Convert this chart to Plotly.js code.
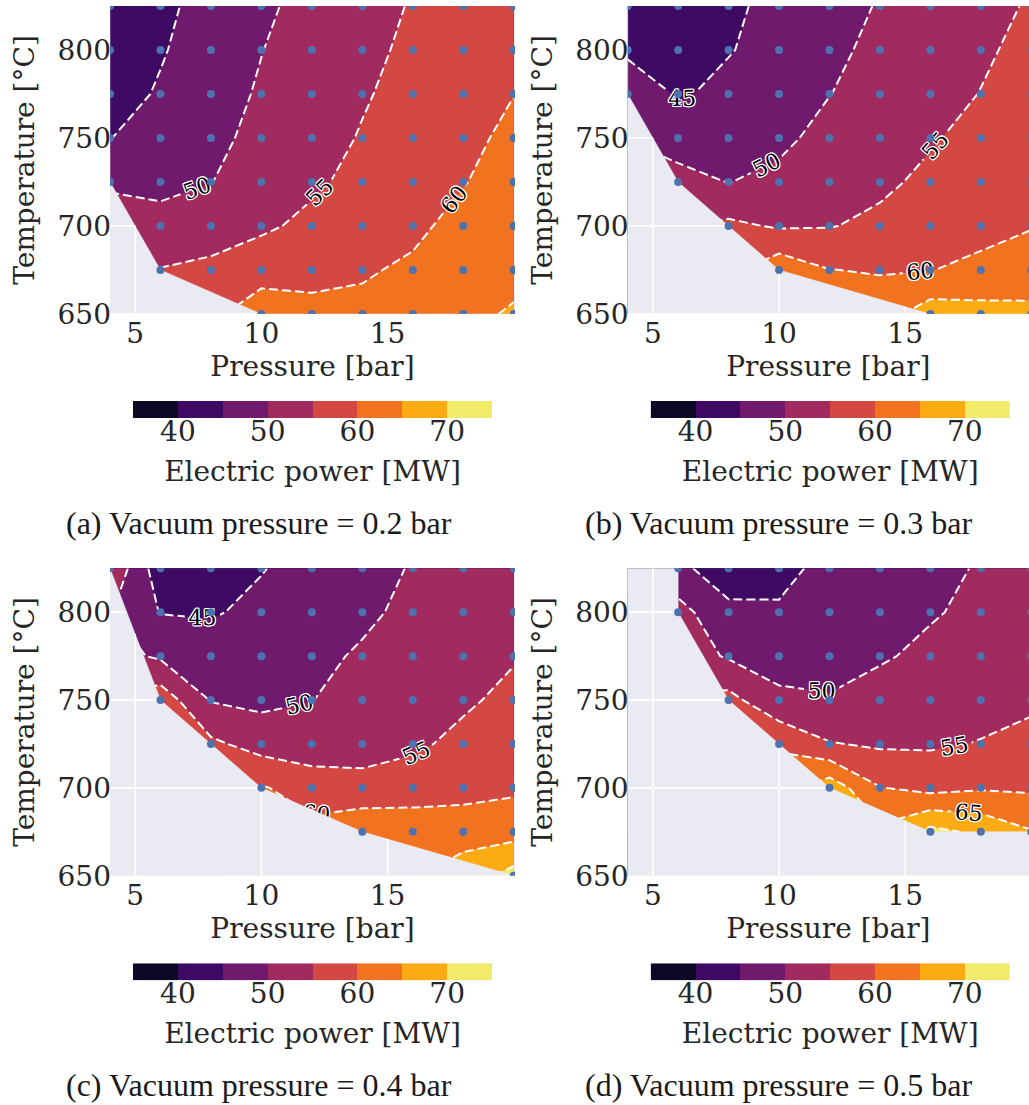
<!DOCTYPE html>
<html>
<head>
<meta charset="utf-8">
<script src="https://cdn.plot.ly/plotly-3.0.1.min.js"></script>
<style>
html,body{margin:0;padding:0;background:#ffffff;overflow:hidden}
#chart{width:1029px;height:1105px}
</style>
</head>
<body>
<div id="chart"></div>
<script>
// ---------------- data ----------------
const pressure = [4, 6, 8, 10, 12, 14, 16, 18, 20];           // bar
const temperature = [650, 675, 700, 725, 750, 775, 800, 825];  // degC

// Electric power [MW]; rows follow temperature, columns follow pressure; null = infeasible
const power02 = [
  [null, null, null, 63.5, 61.3, 60.9, 62.0, 64.3, 65.3],
  [null, 55.2, 56.0, 57.5, 58.6, 59.6, 60.6, 62.7, 64.2],
  [null, 51.4, 52.8, 54.3, 56.0, 58.3, 59.2, 61.2, 63.2],
  [49.5, 48.9, 49.9, 52.2, 54.3, 56.2, 58.0, 59.8, 61.9],
  [44.9, 47.0, 49.0, 51.1, 53.3, 55.3, 57.2, 59.0, 60.9],
  [43.0, 45.5, 48.1, 50.5, 52.5, 54.6, 56.4, 58.2, 59.95],
  [42.2, 44.6, 47.3, 49.9, 52.0, 54.0, 55.8, 57.3, 58.9],
  [41.4, 44.0, 46.6, 49.2, 51.4, 53.4, 55.3, 56.5, 57.8]
];
const power03 = [
  [null, null, null, null, null, null, 67.6, 66.8, 66.3],
  [null, null, null, 63.3, 60.1, 59.6, 59.9, 61.0, 62.0],
  [null, null, 56.0, 54.5, 54.8, 55.9, 57.8, 58.7, 59.8],
  [null, 51.5, 49.9, 51.2, 53.2, 54.2, 55.9, 57.6, 58.9],
  [null, 48.0, 48.2, 48.9, 51.6, 53.0, 54.6, 56.3, 58.0],
  [49.8, 44.3, 46.5, 47.9, 49.9, 52.0, 53.6, 55.1, 57.0],
  [43.7, 43.4, 44.7, 47.0, 49.1, 51.0, 52.7, 54.4, 56.1],
  [41.5, 42.8, 44.2, 46.2, 48.3, 50.3, 52.0, 53.7, 55.4]
];
const power04 = [
  [null, null, null, null, null, null, null, null, 72.0],
  [null, null, null, null, null, 64.8, 63.7, 63.5, 63.0],
  [null, null, null, 60.4, 57.9, 55.8, 57.0, 57.8, 59.2],
  [null, null, 56.0, 53.0, 52.0, 54.0, 54.3, 56.0, 57.5],
  [null, 58.0, 49.7, 48.8, 49.9, 52.0, 53.0, 54.4, 56.0],
  [null, 49.3, 47.2, 47.5, 49.0, 50.5, 52.0, 53.5, 54.7],
  [null, 44.8, 44.6, 46.0, 47.8, 49.2, 51.0, 52.7, 54.1],
  [54.4, 42.0, 42.3, 44.8, 46.6, 48.4, 50.3, 52.0, 53.6]
];
const power05 = [
  [null, null, null, null, null, null, null, null, null],
  [null, null, null, null, null, null, 71.5, 68.9, 65.3],
  [null, null, null, null, 68.0, 60.2, 58.4, 59.5, 59.3],
  [null, null, null, 59.3, 55.3, 54.3, 54.4, 55.2, 56.0],
  [null, null, 56.6, 51.0, 50.3, 51.8, 52.6, 53.5, 54.4],
  [null, null, 49.5, 48.0, 48.5, 49.5, 51.0, 52.0, 53.5],
  [null, 52.1, 45.5, 45.4, 47.0, 48.5, 49.6, 51.0, 52.7],
  [null, 45.5, 43.8, 44.0, 46.0, 47.6, 49.0, 50.3, 52.0]
];

const powerLevels = [35, 40, 45, 50, 55, 60, 65, 70, 75];
const colorbarTicks = [40, 50, 60, 70];
const pressureTicks = [5, 10, 15];
const temperatureTicks = [650, 700, 750, 800];
const captions = [
  '(a) Vacuum pressure = 0.2 bar',
  '(b) Vacuum pressure = 0.3 bar',
  '(c) Vacuum pressure = 0.4 bar',
  '(d) Vacuum pressure = 0.5 bar'
];
const panelData = [power02, power03, power04, power05];

// ---------------- style ----------------
const bandColors = ['#0c0826', '#3e0a63', '#701a6e', '#a12b5e', '#d34843', '#f1721f', '#fcab13', '#f2ea69'];
const W = 1029, H = 1105;
const BG = '#eaeaf2';
const TXT = '#262626';
const FONT = 'DejaVu Serif';
const geom = [
  {x0: 110,   x1: 515,  xr: [4, 20.05], y0: 6,     y1: 314,   cb: [133, 492, 401, 418],        cap: [259, 523]},
  {x0: 627.7, x1: 1029, xr: [4, 19.91], y0: 6,     y1: 314,   cb: [650.7, 1009.7, 401, 418],   cap: [778.5, 523]},
  {x0: 110,   x1: 515,  xr: [4, 20.05], y0: 568.3, y1: 875.7, cb: [133, 492, 963.3, 980.3],    cap: [259, 1085]},
  {x0: 627.7, x1: 1029, xr: [4, 19.91], y0: 568.3, y1: 875.7, cb: [650.7, 1009.7, 963.3, 980.3], cap: [778.5, 1085]}
];

function contourScale() {
  const n = powerLevels.length;
  const s = [];
  bandColors.forEach((c, k) => {
    const lo = k === 0 ? 0 : (k + 0.5) / n;
    const hi = k === bandColors.length - 1 ? 1 : (k + 1.5) / n;
    s.push([lo, c], [hi, c]);
  });
  return s;
}
function barScale() {
  const n = bandColors.length;
  const s = [];
  bandColors.forEach((c, k) => { s.push([k / n, c], [(k + 1) / n, c]); });
  return s;
}

// frontier of the feasible region: top of the first feasible column, then the lower convex hull
function frontier(Z) {
  const pts = [];
  let firstTop = null;
  for (let i = 0; i < pressure.length; i++) {
    let lo = null, hi = null;
    for (let j = 0; j < temperature.length; j++) {
      if (Z[j][i] !== null) { if (lo === null) lo = j; hi = j; }
    }
    if (lo === null) continue;
    if (firstTop === null) firstTop = [pressure[i], temperature[hi]];
    pts.push([pressure[i], temperature[lo]]);
  }
  const h = [];
  for (const p of pts) {
    while (h.length >= 2) {
      const a = h[h.length - 2], b = h[h.length - 1];
      const cr = (b[0] - a[0]) * (p[1] - a[1]) - (b[1] - a[1]) * (p[0] - a[0]);
      if (cr <= 0) h.pop(); else break;
    }
    h.push(p);
  }
  return [firstTop].concat(h);
}

const xmin = Math.min(...pressure), xmax = Math.max(...pressure);
const tmin = Math.min(...temperature), tmax = Math.max(...temperature);

// infeasible area, extended a little past the axes so no sliver stays uncovered
function maskPolygon(F) {
  const ex = 1, et = 2;
  const xs = [xmin - ex, xmin - ex], ys = [tmin - et, tmax + et];
  if (F[0][0] > xmin) { xs.push(F[0][0]); ys.push(tmax + et); }
  else { xs.push(xmin - ex); ys.push(F[0][1]); }
  F.forEach(p => { xs.push(p[0]); ys.push(p[1]); });
  const last = F[F.length - 1];
  xs.push(xmax + ex, xmax + ex, xmin - ex); ys.push(last[1], tmin - et, tmin - et);
  return {x: xs, y: ys};
}

// white grid lines, visible only where the infeasible background shows
function gridSegments(F) {
  const xs = [], ys = [];
  pressureTicks.forEach(c => {
    let top = null;
    if (c < F[0][0]) top = tmax;
    else {
      for (let k = 0; k < F.length - 1; k++) {
        const a = F[k], b = F[k + 1];
        if (b[0] > a[0] && c >= a[0] && c <= b[0]) { top = a[1] + (b[1] - a[1]) * (c - a[0]) / (b[0] - a[0]); break; }
      }
    }
    if (top !== null) { xs.push(c, c, null); ys.push(tmin, top, null); }
  });
  temperatureTicks.forEach(c => {
    let right = null;
    if (c > F[0][1]) right = null;
    else if (c < F[F.length - 1][1]) right = xmax;
    else {
      for (let k = 0; k < F.length - 1; k++) {
        const a = F[k], b = F[k + 1];
        if (c <= a[1] && c >= b[1]) {
          right = a[1] === b[1] ? a[0] : a[0] + (b[0] - a[0]) * (a[1] - c) / (a[1] - b[1]);
          break;
        }
      }
    }
    if (right !== null && right > xmin) { xs.push(xmin, right, null); ys.push(c, c, null); }
  });
  return {x: xs, y: ys};
}

const traces = [];
const layout = {
  width: W, height: H,
  margin: {l: 0, r: 0, t: 0, b: 0},
  paper_bgcolor: '#ffffff',
  plot_bgcolor: BG,
  showlegend: false,
  annotations: []
};
const axFont = {family: FONT, size: 28, color: TXT};

panelData.forEach((Z, i) => {
  const g = geom[i];
  const n = i + 1, m = i + 5;
  const xa = 'x' + n, ya = 'y' + n;

  traces.push({
    type: 'contour', x: pressure, y: temperature, z: Z,
    xaxis: xa, yaxis: ya,
    connectgaps: true, autocontour: false,
    contours: {
      start: powerLevels[0], end: powerLevels[powerLevels.length - 1], size: powerLevels[1] - powerLevels[0],
      coloring: 'fill', showlines: true, showlabels: true, labelformat: '.0f',
      labelfont: {family: FONT, size: 22, color: '#000000',
        shadow: '1px 1px 0 #fff, -1px -1px 0 #fff, 1px -1px 0 #fff, -1px 1px 0 #fff, 0 1px 0 #fff, 0 -1px 0 #fff, 1px 0 0 #fff, -1px 0 0 #fff'}
    },
    line: {color: '#ffffff', width: 2, dash: '9px,4px', smoothing: 0},
    colorscale: contourScale(), showscale: false, hoverinfo: 'skip'
  });

  const F = frontier(Z);
  const poly = maskPolygon(F);
  traces.push({type: 'scatter', mode: 'lines', x: poly.x, y: poly.y, xaxis: xa, yaxis: ya,
    fill: 'toself', fillcolor: BG, line: {width: 0.5, color: BG}, hoverinfo: 'skip'});

  const gs = gridSegments(F);
  traces.push({type: 'scatter', mode: 'lines', x: gs.x, y: gs.y, xaxis: xa, yaxis: ya,
    line: {color: '#ffffff', width: 1.6}, hoverinfo: 'skip', connectgaps: false});

  const px = [], py = [];
  temperature.forEach((t, j) => pressure.forEach((p, k) => { if (Z[j][k] !== null) { px.push(p); py.push(t); } }));
  traces.push({type: 'scatter', mode: 'markers', x: px, y: py, xaxis: xa, yaxis: ya,
    marker: {color: '#4c72b0', size: 8}, hoverinfo: 'skip'});

  layout['xaxis' + n] = {
    domain: [g.x0 / W, g.x1 / W], range: g.xr, anchor: ya,
    tickvals: pressureTicks, ticks: '', ticklabelstandoff: 0,
    showgrid: false, zeroline: false, showline: false, automargin: false, fixedrange: true,
    tickfont: axFont, title: {text: 'Pressure [bar]', font: axFont, standoff: 6}
  };
  layout['yaxis' + n] = {
    domain: [1 - g.y1 / H, 1 - g.y0 / H], range: [tmin, tmax], anchor: xa,
    tickvals: temperatureTicks, ticks: '', ticklabelstandoff: -2,
    showgrid: false, zeroline: false, showline: false, automargin: false, fixedrange: true,
    tickfont: axFont, title: {text: 'Temperature [°C]', font: axFont, standoff: 14}
  };

  // colour bar drawn as a one-row heatmap on its own axis
  const mids = [], idx = [];
  for (let k = 0; k < powerLevels.length - 1; k++) { mids.push((powerLevels[k] + powerLevels[k + 1]) / 2); idx.push(k); }
  traces.push({type: 'heatmap', x: mids, y: [0], z: [idx], xaxis: 'x' + m, yaxis: 'y' + m,
    colorscale: barScale(), zmin: -0.5, zmax: bandColors.length - 0.5, showscale: false, hoverinfo: 'skip'});
  layout['xaxis' + m] = {
    domain: [g.cb[0] / W, g.cb[1] / W], range: [powerLevels[0], powerLevels[powerLevels.length - 1]], anchor: 'y' + m,
    tickvals: colorbarTicks, ticks: '', ticklabelstandoff: -6,
    showgrid: false, zeroline: false, showline: false, automargin: false, fixedrange: true,
    tickfont: axFont, title: {text: 'Electric power [MW]', font: axFont, standoff: 14}
  };
  layout['yaxis' + m] = {
    domain: [1 - g.cb[3] / H, 1 - g.cb[2] / H], range: [-0.5, 0.5], anchor: 'x' + m,
    visible: false, fixedrange: true
  };

  layout.annotations.push({
    text: captions[i], xref: 'paper', yref: 'paper',
    x: g.cap[0] / W, y: 1 - g.cap[1] / H, xanchor: 'center', yanchor: 'middle',
    showarrow: false, font: {family: 'Liberation Serif', size: 32, color: '#1a1a1a'}
  });
});

Plotly.newPlot('chart', traces, layout, {displayModeBar: false, staticPlot: true});
</script>
</body>
</html>
